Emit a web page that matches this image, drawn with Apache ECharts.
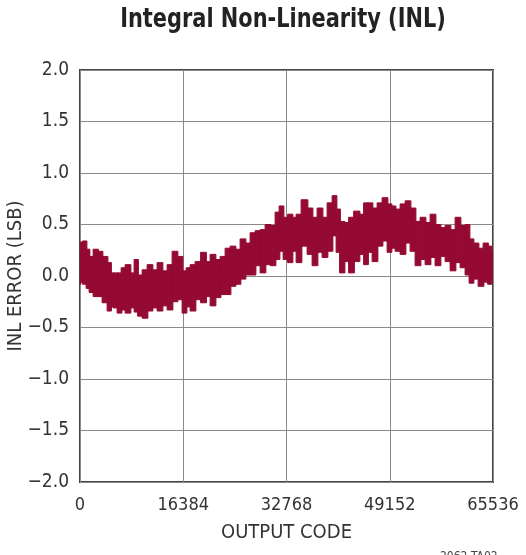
<!DOCTYPE html>
<html><head><meta charset="utf-8">
<script src="https://cdn.jsdelivr.net/npm/echarts@6/dist/echarts.min.js"></script>
<style>html,body{margin:0;padding:0;background:#fff}#c{width:526px;height:555px}</style>
</head><body><div id="c"></div>
<script>
var codes = [0,159,793,1269,1745,2539,3173,3967,4760,5078,5554,6347,6823,7617,8411,8886,9521,10314,11108,11901,12694,13488,14281,15075,15868,16661,17137,17931,18724,19676,20311,21104,21898,22691,23485,24278,25071,25865,26658,27452,28245,29038,29832,30625,31419,31895,32688,33323,34116,34592,35703,36496,37290,38083,38877,39670,40463,40939,41574,42368,43003,43954,44748,45382,46017,46811,47604,48397,49191,49667,50460,51254,52047,52840,53634,54427,55221,56014,56807,57601,58394,59188,59981,60774,61568,62044,62837,63631,64424,65059,65536];
var upper = [0.28,0.33,0.34,0.26,0.19,0.26,0.24,0.19,0.13,0.03,0.03,0.03,0.08,0.11,0.03,0.16,0.01,0.06,0.11,0.06,0.13,0.05,0.11,0.24,0.19,0.05,0.08,0.11,0.14,0.23,0.14,0.21,0.16,0.19,0.27,0.29,0.26,0.36,0.32,0.42,0.44,0.45,0.5,0.49,0.62,0.68,0.57,0.6,0.57,0.6,0.74,0.66,0.57,0.66,0.57,0.71,0.78,0.65,0.53,0.52,0.57,0.63,0.6,0.71,0.71,0.66,0.71,0.76,0.7,0.68,0.65,0.7,0.73,0.66,0.53,0.57,0.52,0.6,0.5,0.47,0.49,0.45,0.57,0.49,0.5,0.36,0.32,0.27,0.32,0.29,0.24];
var lower = [-0.08,-0.06,-0.08,-0.12,-0.16,-0.2,-0.2,-0.26,-0.34,-0.3,-0.31,-0.36,-0.33,-0.36,-0.31,-0.35,-0.39,-0.41,-0.34,-0.31,-0.34,-0.29,-0.33,-0.25,-0.23,-0.36,-0.3,-0.34,-0.23,-0.26,-0.2,-0.29,-0.21,-0.18,-0.18,-0.1,-0.08,-0.03,0.01,0.01,0.1,0.03,0.11,0.1,0.16,0.24,0.16,0.13,0.24,0.13,0.29,0.21,0.1,0.23,0.18,0.24,0.39,0.23,0.03,0.14,0.03,0.14,0.21,0.11,0.23,0.14,0.29,0.34,0.23,0.27,0.24,0.21,0.32,0.24,0.1,0.16,0.11,0.18,0.1,0.19,0.14,0.05,0.13,0.08,0.01,-0.07,-0.03,-0.1,-0.06,-0.08,-0.03];
var xTicks = [0,16384,32768,49152,65536];
var yTicks = [-2.0,-1.5,-1.0,-0.5,0.0,0.5,1.0,1.5,2.0];

var FONT = '"DejaVu Sans Condensed","Liberation Sans Narrow","Roboto",sans-serif';
var BAND = '#940a33';
// each step spans from the midpoint with the previous code to the midpoint with the next one
var steps = codes.map(function(c,i){
  var x0 = i===0 ? c : (codes[i-1]+c)/2;
  var x1 = i===codes.length-1 ? c : (c+codes[i+1])/2;
  return [x0, x1, lower[i], upper[i]];
});
var chart = echarts.init(document.getElementById('c'), null, {renderer:'canvas'});
chart.setOption({
  animation:false,
  grid:{left:80, right:33, top:70, bottom:73, show:true, borderColor:'#444', borderWidth:2,
    backgroundColor:'transparent', containLabel:false, outerBoundsMode:'none'},
  xAxis:{type:'value', min:0, max:65536, interval:16384,
    name:'OUTPUT CODE', nameLocation:'middle', nameGap:41, nameMoveOverlap:false,
    nameTextStyle:{fontFamily:FONT, fontSize:20, color:'#333'},
    axisLine:{show:false}, axisTick:{show:false},
    axisLabel:{fontFamily:FONT, fontSize:18, color:'#333', margin:14,
      formatter:function(v){return xTicks.indexOf(v)>=0? String(v):'';}},
    splitLine:{show:true, lineStyle:{color:'#8a8a8a', width:1}}},
  yAxis:{type:'value', min:-2, max:2, interval:0.5,
    name:'INL ERROR (LSB)', nameLocation:'middle', nameGap:54, nameMoveOverlap:false,
    nameTextStyle:{fontFamily:FONT, fontSize:20, color:'#333'},
    axisLine:{show:false}, axisTick:{show:false},
    axisLabel:{fontFamily:FONT, fontSize:19, color:'#333', margin:11,
      formatter:function(v){var s=Math.abs(v).toFixed(1); return v<0? '\u2212'+s : s;}},
    splitLine:{show:true, lineStyle:{color:'#8a8a8a', width:1}}},
  series:[{
    type:'custom', name:'INL', data:steps, clip:true, silent:true,
    encode:{x:[0,1], y:[2,3]},
    renderItem:function(params, api){
      var a = api.coord([api.value(0), api.value(3)]);
      var b = api.coord([api.value(1), api.value(2)]);
      return {type:'rect', shape:{x:a[0]-0.4, y:a[1], width:b[0]-a[0]+0.8, height:b[1]-a[1]},
        style:{fill:BAND, stroke:BAND, lineWidth:1}};
    }
  }],
  graphic:[
    {type:'text', x:283, y:6, scaleX:0.86, originX:0, style:{text:'Integral Non-Linearity (INL)', align:'center',
      fontFamily:FONT, fontSize:27, fontWeight:'bold', fill:'#222'}},
    {type:'text', left:440, top:551, style:{text:'2062 TA02', fontFamily:FONT, fontSize:12, fill:'#444'}}
  ]
});
</script></body></html>
